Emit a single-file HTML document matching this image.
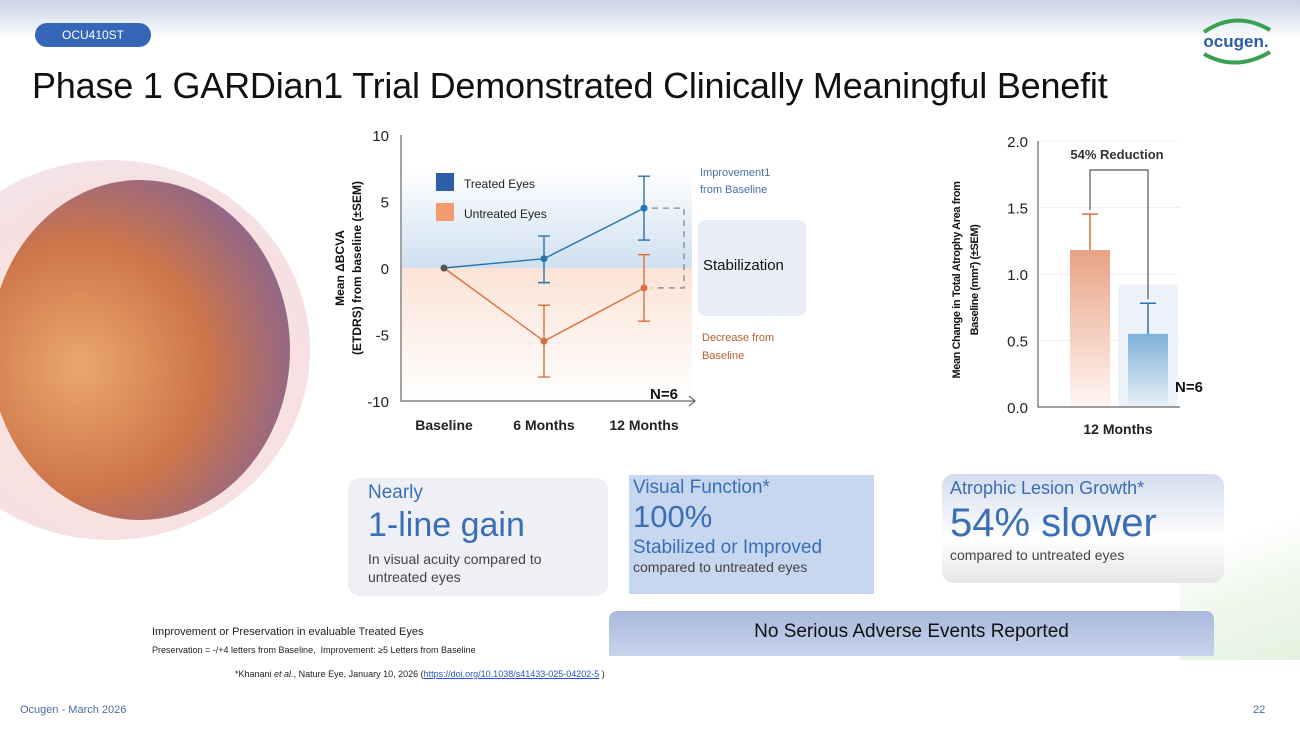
<!DOCTYPE html>
<html><head><meta charset="utf-8">
<style>
*{margin:0;padding:0;box-sizing:border-box}
body{width:1300px;height:731px;position:relative;overflow:hidden;background:#fff;font-family:"Liberation Sans",sans-serif}
.abs{position:absolute}
.narrow{font-family:"Liberation Sans Narrow","Liberation Sans",sans-serif}
</style></head><body>
<div class="abs" style="left:0;top:0;width:1300px;height:40px;background:linear-gradient(#c9d3e6,#fff)"></div>
<div class="abs narrow" style="left:35px;top:23px;width:116px;height:24px;border-radius:12px;background:#3566b8;color:#fff;font-size:12px;line-height:24px;text-align:center">OCU410ST</div>
<div class="abs" style="left:1190px;top:14px;width:92px;height:52px">
<svg width="92" height="52"><path d="M14 18 Q46 -4 80 16" stroke="#3aa150" stroke-width="4" fill="none"/><path d="M14 40 Q46 58 80 38" stroke="#3aa150" stroke-width="4" fill="none"/><text x="46" y="33" text-anchor="middle" font-family="Liberation Sans" font-weight="bold" font-size="17" fill="#2a5aa8">ocugen.</text></svg></div>
<div class="abs narrow" style="left:32px;top:65px;font-size:36px;letter-spacing:-0.2px;color:#111;white-space:nowrap">Phase 1 GARDian1 Trial Demonstrated Clinically Meaningful Benefit</div>

<div class="abs" style="left:-90px;top:160px;width:400px;height:380px;overflow:hidden">
<div class="abs" style="left:0;top:0;width:400px;height:380px;border-radius:50%;background:radial-gradient(circle at 55% 55%,#ffe8dc 0,#f6e0e2 60%,#e8eef8 100%)"></div>
<div class="abs" style="left:80px;top:20px;width:300px;height:340px;border-radius:50%;background:radial-gradient(circle at 30% 55%,#e9a060 0,#c8693a 45%,#8a5a7a 75%,#7d8ab8 100%);opacity:.9"></div>
</div>
<div class="abs" style="left:1180px;top:460px;width:120px;height:200px;background:linear-gradient(160deg,transparent 40%,#eef6ea 70%,#e6f2e0)"></div>

<svg class="abs" style="left:310px;top:120px" width="510" height="320" id="lc"></svg>
<svg class="abs" style="left:940px;top:120px" width="300" height="320" id="bc"></svg>

<div class="abs" style="left:348px;top:478px;width:260px;height:118px;border-radius:12px;background:#eef0f5;padding:4px 20px">
<div style="color:#3a6eb5;font-size:19px" class="narrow">Nearly</div>
<div style="color:#3a6eb5;font-size:34px;line-height:42px" class="narrow">1-line gain</div>
<div style="color:#444;font-size:14px;line-height:18px;margin-top:4px">In visual acuity compared to untreated eyes</div></div>
<div class="abs" style="left:629px;top:475px;width:245px;height:119px;background:#c7d7f0;padding:2px 4px">
<div style="color:#3a6eb5;font-size:19px" class="narrow">Visual Function*</div>
<div style="color:#3a6eb5;font-size:31px;line-height:36px" class="narrow">100%</div>
<div style="color:#3a6eb5;font-size:19px;margin-top:2px" class="narrow">Stabilized or Improved</div>
<div style="color:#444;font-size:14px">compared to untreated eyes</div></div>
<div class="abs" style="left:942px;top:474px;width:282px;height:109px;border-radius:12px;background:linear-gradient(#d4dcee,#fff 60%,#e6e6e6);padding:4px 8px">
<div style="color:#3a6eb5;font-size:18px" class="narrow">Atrophic Lesion Growth*</div>
<div style="color:#3a6eb5;font-size:40px;line-height:48px" class="narrow">54% slower</div>
<div style="color:#444;font-size:14px">compared to untreated eyes</div></div>
<div class="abs narrow" style="left:609px;top:611px;width:605px;height:45px;border-radius:8px 8px 0 0;background:linear-gradient(#a9b8dc,#c8d3ec);font-size:19px;text-align:center;line-height:42px;color:#111">No Serious Adverse Events Reported</div>
<div class="abs narrow" style="left:152px;top:626px;font-size:11px;color:#222">Improvement or Preservation in evaluable Treated Eyes</div>
<div class="abs narrow" style="left:152px;top:645px;font-size:9px;color:#222">Preservation = -/+4 letters from Baseline,&nbsp; Improvement: ≥5 Letters from Baseline</div>
<div class="abs narrow" style="left:235px;top:669px;font-size:9px;color:#222">*Khanani <i>et al.</i>, Nature Eye, January 10, 2026 (<span style="color:#2255cc;text-decoration:underline">https://doi.org/10.1038/s41433-025-04202-5</span> )</div>
<div class="abs" style="left:20px;top:704px;font-size:11px;color:#4a6aa8">Ocugen - March 2026</div>
<div class="abs" style="left:1253px;top:704px;font-size:11px;color:#4a6aa8">22</div>

<script>
const NS='http://www.w3.org/2000/svg';
function el(p,t,a,txt){const e=document.createElementNS(NS,t);for(const k in a)e.setAttribute(k,a[k]);if(txt!==undefined)e.textContent=txt;p.appendChild(e);return e;}
// line chart data
const lcCategories=['Baseline','6 Months','12 Months'];
const treatedMean=[0,0.7,4.5];
const treatedLow=[0,-1.1,2.1];
const treatedHigh=[0,2.4,6.9];
const untreatedMean=[0,-5.5,-1.5];
const untreatedLow=[0,-8.2,-4.0];
const untreatedHigh=[0,-2.8,1.0];
const lcTicks=[10,5,0,-5,-10];
// bar chart data
const barCategories=['Untreated','Treated'];
const barValues=[1.18,0.55];
const barErr=[1.45,0.78];
const barTicks=[0,0.5,1.0,1.5,2.0];

(function(){
const s=document.getElementById('lc');
const y=v=>148-v*13.3, x=i=>134+i*100;
const defs=el(s,'defs',{});
const g1=el(defs,'linearGradient',{id:'bl',x1:0,y1:0,x2:0,y2:1});
el(g1,'stop',{offset:0,'stop-color':'#fff'});el(g1,'stop',{offset:1,'stop-color':'#cfe0f0'});
const g2=el(defs,'linearGradient',{id:'or',x1:0,y1:0,x2:0,y2:1});
el(g2,'stop',{offset:0,'stop-color':'#fbe3d6'});el(g2,'stop',{offset:1,'stop-color':'#fff'});
let r=el(s,'rect',{x:92,y:y(7.5),width:290,height:y(0)-y(7.5),fill:'url(#bl)'});

r=el(s,'rect',{x:92,y:y(0),width:290,height:y(-10)-y(0),fill:'url(#or)'});

el(s,'path',{d:`M91 ${y(10)} V${y(-10)} H385 M379 ${y(-10)-5} L385 ${y(-10)} L379 ${y(-10)+5}`,stroke:'#666',fill:'none','stroke-width':1.2});
lcTicks.forEach(t=>{const e=el(s,'text',{x:79,y:y(t)+6,'text-anchor':'end','font-size':15,fill:'#222'},t);
});
lcCategories.forEach((c,i)=>{const e=el(s,'text',{x:x(i),y:310,'text-anchor':'middle','font-size':14,fill:'#222','font-weight':'bold'},c);
});
const yt=el(s,'text',{transform:`translate(40,${y(0)}) rotate(-90)`,'text-anchor':'middle','font-size':12,fill:'#111','font-weight':'bold'});

el(yt,'tspan',{x:0,dy:-6},'Mean ΔBCVA');el(yt,'tspan',{x:0,dy:17},'(ETDRS) from baseline (±SEM)');
function series(m,lo,hi,col,name){
 const pts=m.map((v,i)=>x(i)+','+y(v)).join(' ');
 const l=el(s,'polyline',{points:pts,fill:'none',stroke:col,'stroke-width':1.4});
 
 m.forEach((v,i)=>{if(i===0)return;
  const e=el(s,'path',{d:`M${x(i)} ${y(lo[i])}V${y(hi[i])}M${x(i)-6} ${y(lo[i])}h12M${x(i)-6} ${y(hi[i])}h12`,stroke:col,'stroke-width':1.4,fill:'none'});
  
  const c=el(s,'circle',{cx:x(i),cy:y(v),r:3.5,fill:col});
  });
}
series(treatedMean,treatedLow,treatedHigh,'#2a72ad','treated');
series(untreatedMean,untreatedLow,untreatedHigh,'#d8703e','untreated');
const b=el(s,'circle',{cx:x(0),cy:y(0),r:3.5,fill:'#555'});

el(s,'path',{d:`M${x(2)+8} ${y(treatedMean[2])}H${x(2)+40}V${y(untreatedMean[2])}H${x(2)+8}`,stroke:'#888','stroke-dasharray':'6 5',fill:'none','stroke-width':1.3});
el(s,'rect',{x:126,y:53,width:18,height:18,fill:'#2e5ea8'});
el(s,'text',{x:154,y:68,'font-size':12,fill:'#222'},'Treated Eyes');
el(s,'rect',{x:126,y:83,width:18,height:18,fill:'#f29a70'});
el(s,'text',{x:154,y:98,'font-size':12,fill:'#222'},'Untreated Eyes');
el(s,'text',{x:340,y:279,'font-size':15,'font-weight':'bold',fill:'#111'},'N=6');
el(s,'text',{x:390,y:56,'font-size':11,fill:'#4a70a8'},'Improvement1');
el(s,'text',{x:390,y:73,'font-size':11,fill:'#4a70a8'},'from Baseline');
el(s,'rect',{x:388,y:100,width:108,height:96,rx:8,fill:'#e9eef6'});
el(s,'text',{x:393,y:150,'font-size':15,fill:'#111'},'Stabilization');
el(s,'text',{x:392,y:221,'font-size':11,fill:'#b8602e'},'Decrease from');
el(s,'text',{x:392,y:239,'font-size':11,fill:'#b8602e'},'Baseline');
})();

(function(){
const s=document.getElementById('bc');
const y=v=>287-v*133;
const defs=el(s,'defs',{});
const g1=el(defs,'linearGradient',{id:'bo',x1:0,y1:0,x2:0,y2:1});
el(g1,'stop',{offset:0,'stop-color':'#e8a285'});el(g1,'stop',{offset:1,'stop-color':'#fff6f2'});
const g2=el(defs,'linearGradient',{id:'bb',x1:0,y1:0,x2:0,y2:1});
el(g2,'stop',{offset:0,'stop-color':'#7fb0da'});el(g2,'stop',{offset:1,'stop-color':'#e8f0f8'});
barTicks.forEach(t=>{el(s,'line',{x1:98,x2:240,y1:y(t),y2:y(t),stroke:'#f0f0f0'});
const e=el(s,'text',{x:88,y:y(t)+6,'text-anchor':'end','font-size':15,fill:'#222'},t.toFixed(1));
});
el(s,'rect',{x:178,y:y(0.92),width:60,height:y(0)-y(0.92),rx:4,fill:'#eef2f9'});
const xs=[130,188], cols=['#d8703e','#2a72ad'], fills=['url(#bo)','url(#bb)'];
barValues.forEach((v,i)=>{
 const r=el(s,'rect',{x:xs[i],y:y(v),width:40,height:y(0)-y(v),fill:fills[i]});
 
 const e=el(s,'path',{d:`M${xs[i]+20} ${y(v)}V${y(barErr[i])}M${xs[i]+12} ${y(barErr[i])}h16`,stroke:cols[i],'stroke-width':1.5,fill:'none'});
 
});
el(s,'path',{d:`M${xs[0]+20} ${y(barErr[0])-4}V50H${xs[1]+20}V${y(barErr[1])-4}`,stroke:'#555',fill:'none','stroke-width':1.2});
el(s,'text',{x:177,y:39,'text-anchor':'middle','font-size':13,'font-weight':'bold',fill:'#333'},'54% Reduction');
el(s,'path',{d:`M98 21V${y(0)}H240`,stroke:'#666',fill:'none','stroke-width':1.2});
el(s,'text',{x:178,y:314,'text-anchor':'middle','font-size':14,'font-weight':'bold',fill:'#222'},'12 Months');
el(s,'text',{x:235,y:272,'font-size':15,'font-weight':'bold',fill:'#111'},'N=6');
const yt=el(s,'text',{transform:`translate(20,160) rotate(-90)`,'text-anchor':'middle','font-size':11,'letter-spacing':'-0.4',fill:'#111','font-weight':'bold'});

el(yt,'tspan',{x:0,dy:0},'Mean Change in Total Atrophy Area from');
el(yt,'tspan',{x:0,dy:18},'Baseline (mm²) (±SEM)');
})();
</script>
</body></html>
